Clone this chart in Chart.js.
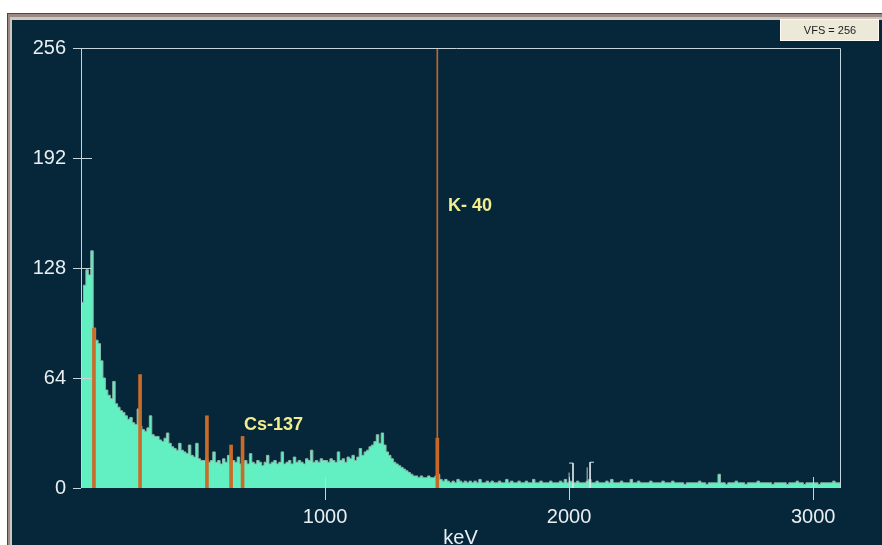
<!DOCTYPE html>
<html>
<head>
<meta charset="utf-8">
<script src="https://cdn.jsdelivr.net/npm/chart.js@4.4.0/dist/chart.umd.min.js"></script>
<style>
html, body { margin: 0; padding: 0; background: #fff; }
#wrap { width: 882px; height: 545px; position: relative; }
</style>
</head>
<body>
<div id="wrap"><canvas id="spectrum"></canvas></div>
<script>
// gamma spectrum, 10 keV per channel, channel 0 starts at 0 keV
const binWidth = 10;
const counts = [
  108,118,127,124,138,93,86,84,74,64,     // 0
  57,54,52,62,49,47,45,44,42,40,          // 100
  41,38,37,46,36,34,33,35,42,31,          // 200
  30,30,28,27,29,32,26,24,23,22,          // 300
  26,22,21,20,25,19,18,26,17,16,          // 400
  16,17,15,16,21,15,16,14,17,15,          // 500
  19,14,16,15,18,14,15,16,14,20,          // 600
  15,14,16,15,13,15,19,14,15,16,          // 700
  14,15,21,14,15,16,14,18,15,16,          // 800
  15,14,17,16,22,15,16,15,17,16,          // 900
  16,15,17,16,15,21,16,17,15,18,          // 1000
  17,19,16,18,23,19,21,22,24,25,          // 1100
  27,31,26,32,25,21,19,17,15,14,          // 1200
  13,12,11,10,9,8,7,7,6,7,                // 1300
  6,6,7,6,6,7,8,5,4,5,                    // 1400
  4,3,4,3,5,4,3,4,3,4,                    // 1500
  3,4,3,5,3,3,4,3,4,3,                    // 1600
  3,4,3,3,5,3,4,3,3,4,                    // 1700
  3,3,4,3,3,5,3,3,4,3,                    // 1800
  3,3,4,3,3,3,4,3,5,3,                    // 1900
  4,3,3,4,3,3,3,4,5,3,                    // 2000
  3,4,3,3,3,4,3,5,3,3,                    // 2100
  3,4,3,3,3,5,3,3,4,3,                    // 2200
  3,3,3,4,3,3,3,3,4,3,                    // 2300
  3,3,4,3,3,3,3,2,3,3,                    // 2400
  3,3,3,4,3,3,2,3,3,3,                    // 2500
  3,8,3,3,2,3,3,3,4,3,                    // 2600
  3,3,2,3,3,3,3,4,3,3,                    // 2700
  3,3,3,2,3,3,3,3,3,2,                    // 2800
  3,3,3,4,3,3,2,3,3,3,                    // 2900
  3,3,2,3,3,3,3,3,4,3,3                   // 3000
];
const energyMax = 3110;

// ROI marker lines (orange)
const markerKeV = [53, 242, 516, 615, 662, 1460];
const markerCounts = [93, 66, 42, 25, 30, 29];
const k40KeV = 1460;

// ROI brackets near 2 MeV
const roiEnd = [{x: 2000, y: 14.5}, {x: 2016, y: 14.5}, {x: 2016, y: 0}];
const roiEndTick = [{x: 2000, y: 0}, {x: 2000, y: 9}];
const roiStart = [{x: 2102, y: 15}, {x: 2086, y: 15}, {x: 2086, y: 0}];
const roiStartTick = [{x: 2074, y: 0}, {x: 2074, y: 12}];

const yTicks = [0, 64, 128, 192, 256];
const xTicks = [1000, 2000, 3000];
const peakNames = ["K- 40", "Cs-137"];
const peakKeV = [1504, 668];
const peakLevel = [164, 36.6];
const vfsText = "VFS = 256";

const histo = counts.map((c, i) => ({x: i * binWidth, y: c}));
histo.push({x: energyMax, y: counts[counts.length - 1]});

const decor = {
  id: 'decor',
  beforeDraw(chart) {
    const c = chart.ctx;
    c.save();
    c.fillStyle = '#ffffff'; c.fillRect(0, 0, 882, 545);
    c.fillStyle = '#4e4644'; c.fillRect(7, 13, 875, 532);
    c.fillStyle = '#9a8a82'; c.fillRect(8, 14, 874, 531);
    c.fillStyle = '#cfc6c0'; c.fillRect(10, 17, 872, 528);
    c.fillStyle = '#062639'; c.fillRect(12, 20, 870, 525);
    c.restore();
  },
  afterDatasetsDraw(chart) {
    const c = chart.ctx, a = chart.chartArea;
    const xs = chart.scales.x, ys = chart.scales.y;
    c.save();
    c.strokeStyle = '#c6d4dc';
    c.lineWidth = 1;
    c.beginPath();
    c.moveTo(a.left - 8, a.top + 0.5); c.lineTo(a.right + 0.5, a.top + 0.5); c.lineTo(a.right + 0.5, a.bottom);
    c.moveTo(a.left + 0.5, a.top); c.lineTo(a.left + 0.5, a.bottom);
    yTicks.forEach(v => {
      const py = Math.round(ys.getPixelForValue(v)) + 0.5;
      c.moveTo(a.left - 8, py); c.lineTo(v === 0 ? a.left : a.left + 11, py);
    });
    xTicks.forEach(v => {
      const px = Math.round(xs.getPixelForValue(v)) + 0.5;
      c.moveTo(px, a.bottom - 11); c.lineTo(px, a.bottom + 12);
    });
    c.stroke();

    c.fillStyle = '#f2ee8e';
    c.font = 'bold 18px "Liberation Sans", Arial, sans-serif';
    c.textAlign = 'left';
    c.textBaseline = 'middle';
    peakNames.forEach((t, i) => c.fillText(t, xs.getPixelForValue(peakKeV[i]), ys.getPixelForValue(peakLevel[i])));

    // VFS box
    c.fillStyle = '#ece9d8';
    c.fillRect(780, 19, 99, 22);
    c.strokeStyle = '#fbfaf4';
    c.strokeRect(780.5, 19.5, 98, 21);
    c.fillStyle = '#1c1c1c';
    c.font = '11px "Liberation Sans", Arial, sans-serif';
    c.textAlign = 'center';
    c.fillText(vfsText, 830, 31);
    c.restore();
  }
};

new Chart("spectrum", {
  type: "line",
  data: {
    datasets: [
      {
        type: "line",
        data: histo,
        stepped: true,
        fill: "origin",
        backgroundColor: "#62f0c2",
        borderColor: "#8ab7aa",
        borderWidth: 1,
        pointRadius: 0,
        order: 3
      },
      {
        type: "bar",
        data: markerKeV.map((k, i) => ({x: k, y: markerCounts[i]})),
        backgroundColor: "#c96c2a",
        barThickness: 3,
        grouped: false,
        order: 2
      },
      {
        type: "bar",
        data: [{x: k40KeV, y: 256}],
        backgroundColor: "#c46428",
        barThickness: 1,
        grouped: false,
        order: 1
      },
      { type: "line", data: roiEnd, borderColor: "#d8e0e4", borderWidth: 1, pointRadius: 0, fill: false, order: 0 },
      { type: "line", data: roiEndTick, borderColor: "#b8c4c8", borderWidth: 1, pointRadius: 0, fill: false, order: 0 },
      { type: "line", data: roiStart, borderColor: "#d8e0e4", borderWidth: 1, pointRadius: 0, fill: false, order: 0 },
      { type: "line", data: roiStartTick, borderColor: "#b8c4c8", borderWidth: 1, pointRadius: 0, fill: false, order: 0 }
    ]
  },
  options: {
    responsive: true,
    maintainAspectRatio: false,
    animation: false,
    layout: { padding: { top: 48, right: 42, left: 0, bottom: 0 } },
    plugins: {
      legend: { display: false },
      tooltip: { enabled: false }
    },
    scales: {
      x: {
        type: "linear",
        min: 0,
        max: energyMax,
        offset: false,
        grid: { display: false, drawTicks: false, offset: false },
        border: { display: false },
        afterBuildTicks: s => { s.ticks = xTicks.map(v => ({value: v})); },
        afterFit: s => { s.height = 57; },
        ticks: {
          autoSkip: false,
          maxRotation: 0,
          padding: 17,
          color: "#e8eef1",
          font: { size: 20, family: "'Liberation Sans', Arial, sans-serif" },
          callback: v => String(v)
        },
        title: {
          display: true,
          text: "keV",
          color: "#e8eef1",
          padding: { top: 0, bottom: -5 },
          font: { size: 20, family: "'Liberation Sans', Arial, sans-serif" }
        }
      },
      y: {
        min: 0,
        max: 256,
        grid: { display: false, drawTicks: false },
        border: { display: false },
        afterBuildTicks: s => { s.ticks = yTicks.map(v => ({value: v})); },
        afterFit: s => { s.width = 81; },
        ticks: {
          padding: 15,
          color: "#e8eef1",
          font: { size: 20, family: "'Liberation Sans', Arial, sans-serif" },
          callback: v => String(v)
        }
      }
    }
  },
  plugins: [decor]
});
</script>
</body>
</html>
